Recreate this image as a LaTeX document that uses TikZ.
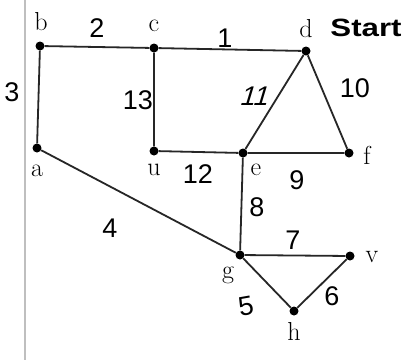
\documentclass[tikz,border=0pt]{standalone}
\usepackage{fontspec}
\newfontfamily\handb{Liberation Sans}
\tikzset{
  vtx/.style={circle,fill=black,inner sep=0pt,minimum size=9pt},
  edge/.style={line width=1.8pt,black!85},
  vlab/.style={font=\fontsize{26}{26}\selectfont},
  wlab/.style={font=\handb\fontsize{27}{27}\selectfont},
}
\begin{document}
\begin{tikzpicture}[x=1pt,y=-1pt]
\useasboundingbox (0,0) rectangle (418,360);
\fill[white] (0,0) rectangle (418,360);
\draw[line width=2pt,black!25] (25,0) -- (25,360);
\node[vtx] (b) at (40,46) {};
\node[vtx] (c) at (154,48) {};
\node[vtx] (d) at (306,51) {};
\node[vtx] (a) at (37,148) {};
\node[vtx] (u) at (154,151) {};
\node[vtx] (e) at (243,153) {};
\node[vtx] (f) at (349,153) {};
\node[vtx] (g) at (240,255) {};
\node[vtx] (v) at (350,256) {};
\node[vtx] (h) at (294,311) {};
\draw[edge] (b) -- (c) -- (d);
\draw[edge] (b) -- (a);
\draw[edge] (c) -- (u) -- (e) -- (f);
\draw[edge] (d) -- (e);
\draw[edge] (d) -- (f);
\draw[edge] (e) -- (g);
\draw[edge] (a) -- (g);
\draw[edge] (g) -- (v) -- (h) -- (g);
\node[vlab] (lb) at (41,22) {b};
\node[vlab] (lc) at (154,26) {c};
\node[vlab] (ld) at (306,29) {d};
\node[wlab,anchor=west,xscale=1.25,font=\handb\bfseries\fontsize{25}{25}\selectfont] (ls) at (326,28) {Start};
\node[vlab] (la) at (37,171) {a};
\node[vlab] (lu) at (154,170) {u};
\node[vlab] (le) at (256,170) {e};
\node[vlab] (lf) at (367,155) {f};
\node[vlab] (lg) at (228,275) {g};
\node[vlab] (lv) at (372,257) {v};
\node[vlab] (lh) at (294,331) {h};
\node[wlab] (w2) at (97,28) {2};
\node[wlab] (w1) at (225,38) {1};
\node[wlab] (w3) at (12,92) {3};
\node[wlab] (w13) at (138,100) {13};
\node[wlab,xslant=0.3] (w11) at (256,96) {11};
\node[wlab] (w10) at (355,88) {10};
\node[wlab] (w12) at (198,174) {12};
\node[wlab] (w9) at (297,180) {9};
\node[wlab] (w8) at (257,207) {8};
\node[wlab] (w4) at (110,228) {4};
\node[wlab] (w7) at (293,240) {7};
\node[wlab,rotate=10] (w5) at (246,306) {5};
\node[wlab] (w6) at (332,296) {6};
\end{tikzpicture}
\end{document}
